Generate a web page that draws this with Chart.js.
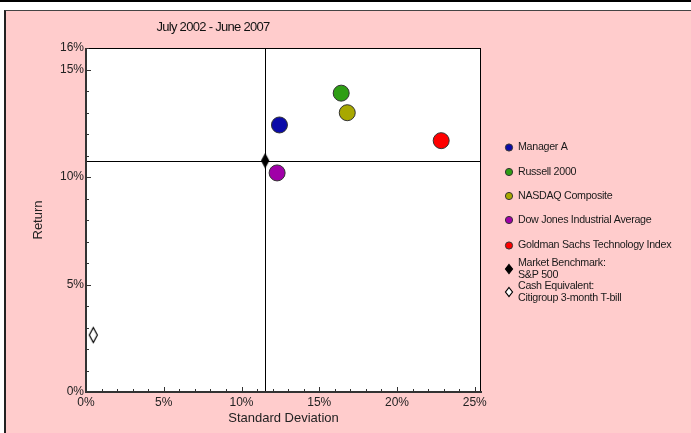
<!DOCTYPE html>
<html>
<head>
<meta charset="utf-8">
<script src="https://cdn.jsdelivr.net/npm/chart.js@4/dist/chart.umd.min.js"></script>
<style>
  html, body { margin: 0; padding: 0; background: #fff; width: 691px; height: 433px; overflow: hidden; }
  #bar { position: absolute; left: 0; top: 0; width: 691px; height: 2px; background: #000; }
  #panel { position: absolute; left: 4px; top: 10px; width: 687px; height: 423px; background: #FFCCCC;
           border-left: 2px solid #222; border-top: 1px solid #444; box-sizing: border-box; }
  #c { position: absolute; left: 0; top: 0; }
</style>
</head>
<body>
<div id="bar"></div>
<div id="panel"><canvas id="c" width="685" height="422"></canvas></div>
<script>
// ---- data ----
const chartTitle = 'July 2002 - June 2007';
const categories = ['Manager A', 'Russell 2000', 'NASDAQ Composite', 'Dow Jones Industrial Average',
  'Goldman Sachs Technology Index', 'Market Benchmark:\nS&P 500', 'Cash Equivalent:\nCitigroup 3-month T-bill'];
const stdDevValues = [12.44, 16.41, 16.80, 12.29, 22.84, 11.52, 0.47];
const returnValues = [12.42, 13.90, 12.99, 10.19, 11.69, 10.76, 2.65];
const pointColors = ['#0A0AA8', '#2E9E14', '#A8A800', '#A000A8', '#FF0000', '#000000', '#FFFFFF'];
const xTickLabels = [0, 5, 10, 15, 20, 25];
const yTickLabels = [0, 5, 10, 15, 16];
const benchmarkIndex = 5;

function diamond(w, h, fill, stroke) {
  const c = document.createElement('canvas');
  c.width = w + 3; c.height = h + 3;
  const g = c.getContext('2d');
  const cx = c.width / 2, cy = c.height / 2;
  g.beginPath();
  g.moveTo(cx, 1.5); g.lineTo(c.width - 1.5, cy);
  g.lineTo(cx, c.height - 1.5); g.lineTo(1.5, cy); g.closePath();
  g.fillStyle = fill; g.fill();
  g.lineWidth = 1.2; g.strokeStyle = stroke; g.stroke();
  return c;
}
const bigBench = diamond(7, 13, '#000', '#000');
const bigCash = diamond(8, 15, '#fff', '#000');
const smallBench = diamond(7, 9, '#000', '#000');
const smallCash = diamond(7, 9, '#fff', '#000');

const datasets = categories.map((name, i) => {
  let style = 'circle';
  if (i === 5) style = bigBench;
  if (i === 6) style = bigCash;
  return {
    label: name,
    data: [{ x: stdDevValues[i], y: returnValues[i] }],
    pointStyle: style,
    pointRadius: 8,
    pointHoverRadius: 8,
    backgroundColor: pointColors[i],
    borderColor: '#333',
    borderWidth: i >= 5 ? 0 : 1
  };
});

const FONT = 'Liberation Sans, Arial, sans-serif';

const framePlugin = {
  id: 'frame',
  beforeDraw(chart) {
    const { ctx, chartArea: a } = chart;
    ctx.save();
    ctx.fillStyle = '#fff';
    ctx.fillRect(a.left, a.top, a.right - a.left, a.bottom - a.top);
    ctx.restore();
  },
  beforeDatasetsDraw(chart) {
    const { ctx, chartArea: a, scales } = chart;
    const bx = scales.x.getPixelForValue(stdDevValues[benchmarkIndex]);
    const by = scales.y.getPixelForValue(returnValues[benchmarkIndex]);
    ctx.save();
    ctx.strokeStyle = '#000';
    ctx.lineWidth = 1;
    ctx.beginPath();
    ctx.moveTo(Math.round(bx) + 0.5, a.top); ctx.lineTo(Math.round(bx) + 0.5, a.bottom);
    ctx.moveTo(a.left, Math.round(by) + 0.5); ctx.lineTo(a.right, Math.round(by) + 0.5);
    ctx.stroke();
    // border
    ctx.strokeRect(a.left + 0.5, a.top + 0.5, a.right - a.left - 1, a.bottom - a.top);
    ctx.strokeStyle = '#333';
    ctx.lineWidth = 2;
    ctx.beginPath();
    ctx.moveTo(a.left, a.top); ctx.lineTo(a.left, a.bottom + 1);
    ctx.moveTo(a.left, a.bottom); ctx.lineTo(a.right + 1, a.bottom);
    ctx.stroke();
    // tick marks (inside)
    ctx.lineWidth = 1;
    ctx.strokeStyle = '#333';
    ctx.beginPath();
    scales.x.ticks.forEach(t => {
      const px = Math.round(scales.x.getPixelForValue(t.value)) + 0.5;
      const len = t.value % 5 === 0 ? 5 : 3;
      ctx.moveTo(px, a.bottom); ctx.lineTo(px, a.bottom - len);
    });
    scales.y.ticks.forEach(t => {
      const py = Math.round(scales.y.getPixelForValue(t.value)) + 0.5;
      const len = t.value % 5 === 0 ? 5 : 3;
      ctx.moveTo(a.left, py); ctx.lineTo(a.left + len, py);
    });
    ctx.stroke();
    ctx.restore();
  },
  afterDraw(chart) {
    const { ctx } = chart;
    ctx.save();
    // title
    ctx.fillStyle = '#111';
    ctx.font = '13px ' + FONT;
    ctx.letterSpacing = '-0.7px';
    ctx.textAlign = 'center';
    ctx.textBaseline = 'middle';
    ctx.fillText(chartTitle, 207, 16);
    // legend
    ctx.letterSpacing = '-0.3px';
    ctx.font = '10.7px ' + FONT;
    ctx.textAlign = 'left';
    const markerX = 503, textX = 512;
    const rowY = [136.5, 161, 185, 209, 234.5];
    categories.forEach((name, i) => {
      if (i < 5) {
        ctx.beginPath();
        ctx.arc(markerX, rowY[i], 3.6, 0, Math.PI * 2);
        ctx.fillStyle = pointColors[i]; ctx.fill();
        ctx.lineWidth = 1; ctx.strokeStyle = '#333'; ctx.stroke();
        ctx.fillStyle = '#1a1a1a';
        ctx.fillText(name, textX, rowY[i]);
      } else {
        const lines = name.split('\n');
        const y0 = i === 5 ? 252.5 : 275.5;
        const img = i === 5 ? smallBench : smallCash;
        ctx.drawImage(img, Math.round(markerX - img.width / 2), Math.round(y0 + 5.5 - img.height / 2));
        ctx.fillStyle = '#1a1a1a';
        lines.forEach((ln, k) => ctx.fillText(ln, textX, y0 + k * 12));
      }
    });
    ctx.restore();
  }
};

new Chart(document.getElementById('c'), {
  type: 'scatter',
  data: { datasets },
  options: {
    responsive: false,
    devicePixelRatio: 1,
    animation: false,
    layout: { padding: { top: 37, right: 210, left: 0, bottom: 0 } },
    plugins: { legend: { display: false }, title: { display: false }, tooltip: { enabled: false } },
    scales: {
      x: {
        type: 'linear', min: 0, max: 25.4,
        grid: { display: false, drawTicks: false },
        border: { display: false },
        afterBuildTicks(s) { s.ticks = Array.from({ length: 26 }, (_, i) => ({ value: i })); },
        afterFit(s) { s.height = 41; },
        ticks: {
          padding: 3, color: '#222', font: { size: 12, family: FONT },
          autoSkip: false, maxRotation: 0,
          callback: v => xTickLabels.includes(v) ? v + '%' : ''
        },
        title: { display: true, text: 'Standard Deviation', color: '#222',
                 font: { size: 13, family: FONT }, padding: { top: 0, bottom: 7.2 } }
      },
      y: {
        type: 'linear', min: 0, max: 16,
        grid: { display: false, drawTicks: false },
        border: { display: false },
        afterBuildTicks(s) { s.ticks = Array.from({ length: 17 }, (_, i) => ({ value: i })); },
        afterFit(s) { s.width = 80; },
        ticks: {
          padding: 2, color: '#222', font: { size: 12, family: FONT },
          autoSkip: false,
          callback: v => yTickLabels.includes(v) ? v + '%' : ''
        },
        title: { display: true, text: 'Return', color: '#222',
                 font: { size: 13, family: FONT }, padding: { top: 24.2, bottom: 0 } }
      }
    }
  },
  plugins: [framePlugin]
});
</script>
</body>
</html>
